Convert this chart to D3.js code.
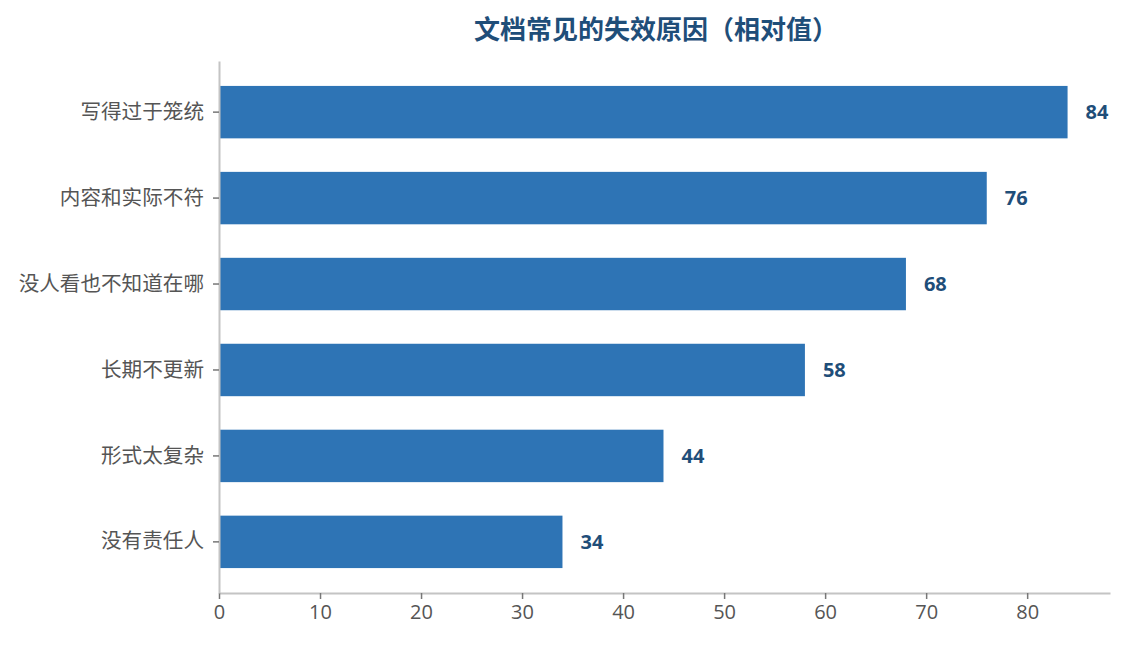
<!DOCTYPE html>
<html>
<head>
<meta charset="utf-8">
<script src="https://cdn.jsdelivr.net/npm/d3@7"></script>
<style>
    html, body { margin: 0; padding: 0; background: #ffffff; }
    svg { display: block; }
</style>
</head>
<body>
<div id="chart"></div>
<script>
// chart data
const categories = ['写得过于笼统', '内容和实际不符', '没人看也不知道在哪', '长期不更新', '形式太复杂', '没有责任人'];
const values = [84, 76, 68, 58, 44, 34];
const xTicks = [0, 10, 20, 30, 40, 50, 60, 70, 80];
const titleText = '文档常见的失效原因（相对值）';

const W = 1124, H = 645;
const margin = { top: 61, right: 14, bottom: 52, left: 219 };
const cjkFont = '"Noto Sans CJK SC", "Noto Sans", sans-serif';
const numFont = '"Open Sans", "Noto Sans", sans-serif';

const svg = d3.select('#chart').append('svg')
    .attr('width', W)
    .attr('height', H);

const x = d3.scaleLinear()
    .domain([0, d3.max(values) * 1.05])
    .range([margin.left, W - margin.right]);

const y = d3.scaleBand()
    .domain(categories)
    .range([margin.top, H - margin.bottom])
    .paddingInner(0.39)
    .paddingOuter(0.29);

// bars
svg.append('g').selectAll('rect')
    .data(categories)
    .join('rect')
    .attr('x', x(0))
    .attr('y', d => y(d))
    .attr('width', (d, i) => x(values[i]) - x(0))
    .attr('height', y.bandwidth())
    .attr('fill', '#2e74b5');

// value labels
svg.append('g').selectAll('text')
    .data(categories)
    .join('text')
    .attr('x', (d, i) => x(values[i]) + 18)
    .attr('y', d => y(d) + y.bandwidth() / 2)
    .attr('dy', '0.36em')
    .style('font', `bold 20px ${numFont}`)
    .style('fill', '#1f4e79')
    .text((d, i) => values[i]);

// x axis
const xAxis = svg.append('g')
    .attr('transform', `translate(0,${H - margin.bottom})`)
    .call(d3.axisBottom(x).tickValues(xTicks).tickSize(6).tickPadding(6).tickSizeOuter(0));
xAxis.select('.domain').attr('stroke', '#c4c4c4').attr('stroke-width', 2);
xAxis.selectAll('.tick line').attr('stroke', '#777').attr('stroke-width', 1.5);
xAxis.selectAll('.tick text')
    .style('font', `20px ${numFont}`)
    .style('fill', '#555');

// y axis
const yAxis = svg.append('g')
    .attr('transform', `translate(${margin.left},0)`)
    .call(d3.axisLeft(y).tickSize(6).tickPadding(9).tickSizeOuter(0));
yAxis.select('.domain').attr('stroke', '#c4c4c4').attr('stroke-width', 2);
yAxis.selectAll('.tick line').attr('stroke', '#777').attr('stroke-width', 1.5);
yAxis.selectAll('.tick text')
    .style('font', `20.6px ${cjkFont}`)
    .style('fill', '#555');

// title
svg.append('text')
    .attr('x', 656)
    .attr('y', 39)
    .attr('text-anchor', 'middle')
    .style('font', `bold 26px ${cjkFont}`)
    .style('fill', '#1f4e79')
    .text(titleText);
</script>
</body>
</html>
